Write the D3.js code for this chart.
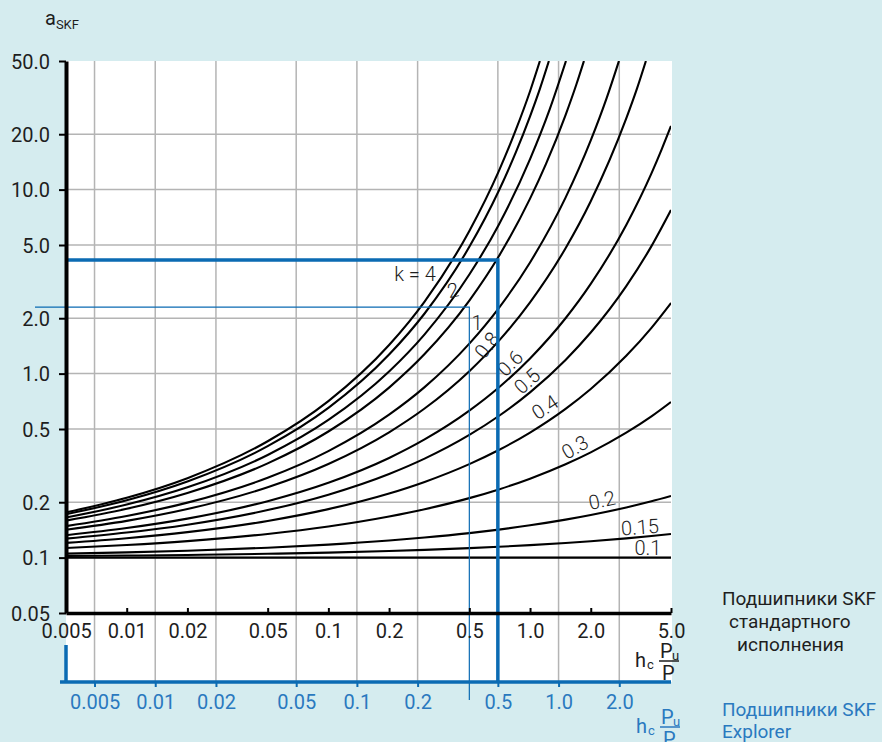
<!DOCTYPE html>
<html><head><meta charset="utf-8">
<script src="https://cdn.jsdelivr.net/npm/d3@7"></script>
<style>body{margin:0;background:#d5ecef;} svg{display:block}</style>
</head><body>
<svg id="c" width="882" height="742"></svg>
<script>
// ---- data ----
const yTicks = [50, 20, 10, 5, 2, 1, 0.5, 0.2, 0.1, 0.05];
const yTickLabels = ["50.0", "20.0", "10.0", "5.0", "2.0", "1.0", "0.5", "0.2", "0.1", "0.05"];
const xTicksStd = [0.005, 0.01, 0.02, 0.05, 0.1, 0.2, 0.5, 1.0, 2.0, 5.0];
const xTickLabelsStd = ["0.005", "0.01", "0.02", "0.05", "0.1", "0.2", "0.5", "1.0", "2.0", "5.0"];
const xTicksExp = [0.005, 0.01, 0.02, 0.05, 0.1, 0.2, 0.5, 1.0, 2.0];
const xTickLabelsExp = ["0.005", "0.01", "0.02", "0.05", "0.1", "0.2", "0.5", "1.0", "2.0"];
const stdDomain = [0.005, 5];
const expDomain = [0.00361, 3.61];   // Explorer scale, shifted against standard scale
const yDomain = [0.05, 50];

// curves: [hc*Pu/P (standard scale), aSKF]
const curve1 = [[0.005,0.176],[0.01,0.2115],[0.02,0.2703],[0.05,0.4289],[0.1,0.709],[0.2,1.43],[0.3,2.464],[0.5,5.966],[0.7,12.61],[0.85,21.1],[1.0,34.25],[1.119,50]];
const curve2 = [[0.005,0.1721],[0.01,0.2051],[0.02,0.2594],[0.05,0.4032],[0.1,0.651],[0.2,1.269],[0.3,2.122],[0.5,4.887],[0.7,9.863],[0.85,15.93],[1.0,25.03],[1.12,35.4],[1.24,50]];
const curve3 = [[0.005,0.1652],[0.01,0.1942],[0.02,0.241],[0.05,0.3613],[0.1,0.56],[0.2,1.027],[0.3,1.635],[0.5,3.455],[0.7,6.448],[1.0,14.64],[1.25,27.2],[1.507,50]];
const curve4 = [[0.005,0.1588],[0.01,0.1842],[0.02,0.2246],[0.05,0.3252],[0.1,0.4846],[0.2,0.8396],[0.3,1.277],[0.5,2.494],[0.7,4.341],[1.0,8.933],[1.2,13.8],[1.5,25.43],[1.7,37.5],[1.85,50]];
const curve5 = [[0.005,0.1483],[0.01,0.1683],[0.02,0.199],[0.05,0.2717],[0.1,0.3793],[0.2,0.5982],[0.3,0.8442],[0.5,1.455],[0.7,2.271],[1.0,4.019],[1.5,9.048],[2.0,18.5],[2.4,31.5],[2.759,50]];
const curve6 = [[0.005,0.1417],[0.01,0.1584],[0.02,0.1836],[0.05,0.2413],[0.1,0.3229],[0.2,0.4799],[0.3,0.6461],[0.5,1.031],[0.7,1.506],[1.0,2.44],[1.5,4.801],[2.0,8.645],[3.0,24.37],[3.4,35.7],[3.754,50]];
const curve7 = [[0.005,0.1324],[0.01,0.1448],[0.02,0.1629],[0.05,0.2026],[0.1,0.2551],[0.2,0.348],[0.3,0.4388],[0.5,0.6291],[0.7,0.8402],[1.0,1.209],[1.5,1.999],[2.0,3.072],[3.0,6.426],[4.0,12.25],[4.5,16.6],[5.0,22.17]];
const curve8 = [[0.005,0.1268],[0.01,0.1368],[0.02,0.151],[0.05,0.1813],[0.1,0.2199],[0.2,0.2848],[0.3,0.3451],[0.5,0.4643],[0.7,0.5884],[1.0,0.7911],[1.5,1.187],[2.0,1.672],[3.0,2.99],[4.0,4.929],[5.0,7.75]];
const curve9 = [[0.005,0.1202],[0.01,0.1274],[0.02,0.1375],[0.05,0.1582],[0.1,0.1834],[0.2,0.2231],[0.3,0.2579],[0.5,0.3222],[0.7,0.3843],[1.0,0.4784],[1.5,0.6435],[2.0,0.8248],[3.0,1.249],[4.0,1.774],[5.0,2.42]];
const curve10 = [[0.005,0.1127],[0.01,0.117],[0.02,0.1229],[0.05,0.1345],[0.1,0.1477],[0.2,0.1673],[0.3,0.1832],[0.5,0.2105],[0.7,0.2348],[1.0,0.2686],[1.5,0.3217],[2.0,0.3734],[3.0,0.4774],[4.0,0.5855],[5.0,0.701]];
const curve11 = [[0.005,0.1051],[0.01,0.1068],[0.02,0.109],[0.05,0.1132],[0.1,0.1176],[0.2,0.1238],[0.3,0.1285],[0.5,0.1359],[0.7,0.142],[1.0,0.1498],[1.5,0.1608],[2.0,0.1704],[3.0,0.1873],[4.0,0.2023],[5.0,0.2162]];
const curve12 = [[0.005,0.102],[0.01,0.1026],[0.02,0.1034],[0.05,0.1049],[0.1,0.1065],[0.2,0.1087],[0.3,0.1102],[0.5,0.1126],[0.7,0.1145],[1.0,0.1169],[1.5,0.1201],[2.0,0.1228],[3.0,0.1272],[4.0,0.131],[5.0,0.1343]];
const curve13 = [[0.005,0.1],[0.05,0.1],[0.5,0.1],[5.0,0.1]];
const curves = [curve1, curve2, curve3, curve4, curve5, curve6, curve7, curve8, curve9, curve10, curve11, curve12, curve13];

// curve labels: text, position (standard x, aSKF), rotation
const kLabelText = ["k = 4", "2", "1", "0.8", "0.6", "0.5", "0.4", "0.3", "0.2", "0.15", "0.1"];
const kLabelX = [0.269, 0.4145, 0.5453, 0.6113, 0.7948, 0.9651, 1.185, 1.669, 2.272, 3.507, 3.843];
const kLabelA = [3.48, 2.846, 1.884, 1.43, 1.142, 0.9118, 0.658, 0.3993, 0.2055, 0.1467, 0.1128];
const kLabelAngle = [0, -12, 0, -52, -45, -42, -33, -30, -12, -4, 0];

// reading examples
const explorerX = 0.5, explorerA = 4.14;
const standardX = 0.5, standardA = 2.3;

// ---- layout ----
const L = 66, R = 671, T = 61, B = 613, BB = 682;
const xStd = d3.scaleLog().domain(stdDomain).range([L, R]);
const xExp = d3.scaleLog().domain(expDomain).range([L, R]);
const y = d3.scaleLog().domain(yDomain).range([B, T]);

const BLUE = "#0b6bb3", BLUET = "#2a79bf", INK = "#1e1e1e";
const FONT = "Roboto, 'Open Sans', sans-serif";

const svg = d3.select("#c");
svg.append("rect").attr("width", 882).attr("height", 742).attr("fill", "#d5ecef");
svg.append("rect").attr("x", L).attr("y", T).attr("width", R - L + 1).attr("height", BB - T).attr("fill", "#fff");

// grid
const grid = svg.append("g").attr("stroke", "#b4b4b4").attr("stroke-width", 1.5);
grid.selectAll(".gv").data(xTicksExp).join("line")
  .attr("x1", d => xExp(d)).attr("x2", d => xExp(d)).attr("y1", T).attr("y2", BB);
grid.selectAll(".gh").data(yTicks.filter(d => d < 50 && d > 0.05)).join("line")
  .attr("y1", d => y(d)).attr("y2", d => y(d)).attr("x1", L).attr("x2", R);

// curves
svg.append("clipPath").attr("id", "clip").append("rect").attr("x", L).attr("y", T).attr("width", R - L).attr("height", B - T);
const line = d3.line().x(d => xStd(d[0])).y(d => y(d[1])).curve(d3.curveMonotoneX);
svg.append("g").attr("clip-path", "url(#clip)")
  .selectAll("path").data(curves).join("path")
  .attr("d", line).attr("fill", "none").attr("stroke", "#000").attr("stroke-width", 2.1);

// curve labels
svg.append("g").selectAll("text").data(kLabelText).join("text")
  .attr("transform", (d, i) => `translate(${xStd(kLabelX[i])},${y(kLabelA[i])}) rotate(${kLabelAngle[i]})`)
  .attr("text-anchor", "middle").attr("dy", "0.36em")
  .attr("font-family", FONT).attr("font-weight", 300).attr("font-size", 20).attr("fill", INK)
  .text(d => d);

// thin blue reading line (standard)
svg.append("path")
  .attr("d", `M35,${y(standardA)}H${xStd(standardX)}V700`)
  .attr("fill", "none").attr("stroke", BLUE).attr("stroke-width", 1.2);
// thick blue reading line (Explorer)
svg.append("path")
  .attr("d", `M${L},${y(explorerA)}H${xExp(explorerX)}V${BB}`)
  .attr("fill", "none").attr("stroke", BLUE).attr("stroke-width", 3.5);

// y axis
const yAxis = svg.append("g").attr("transform", `translate(${L},0)`)
  .call(d3.axisLeft(y).tickValues(yTicks).tickFormat((d, i) => yTickLabels[i]).tickSize(7).tickSizeOuter(0).tickPadding(9));
yAxis.select(".domain").attr("stroke", "#000").attr("stroke-width", 4);
yAxis.selectAll(".tick line").attr("stroke", "#000").attr("stroke-width", 2);
yAxis.selectAll(".tick text").attr("font-family", FONT).attr("font-size", 20).attr("fill", INK).attr("dy", "0.35em");

// standard x axis
const xAxisS = svg.append("g").attr("transform", `translate(0,${B})`)
  .call(d3.axisBottom(xStd).tickValues(xTicksStd).tickFormat((d, i) => xTickLabelsStd[i]).tickSize(-5).tickSizeOuter(0).tickPadding(11));
xAxisS.select(".domain").attr("stroke", "#000").attr("stroke-width", 3.5);
xAxisS.selectAll(".tick line").attr("stroke", "#000").attr("stroke-width", 2);
xAxisS.selectAll(".tick text").attr("font-family", FONT).attr("font-size", 20).attr("fill", INK);

// Explorer x axis
svg.append("path").attr("d", `M${L},645V${BB}`).attr("stroke", BLUE).attr("stroke-width", 3.5).attr("fill", "none");
const xAxisE = svg.append("g").attr("transform", `translate(0,${BB})`)
  .call(d3.axisBottom(xExp).tickValues(xTicksExp).tickFormat((d, i) => xTickLabelsExp[i]).tickSize(5).tickSizeOuter(0).tickPadding(8));
xAxisE.select(".domain").attr("stroke", BLUE).attr("stroke-width", 3.5).attr("d", `M${L - 6},0H${R}`);
xAxisE.selectAll(".tick line").attr("stroke", BLUE).attr("stroke-width", 2);
xAxisE.selectAll(".tick text").attr("font-family", FONT).attr("font-size", 20).attr("fill", BLUET);

// y title
const yt = svg.append("text").attr("x", 45).attr("y", 25).attr("font-family", FONT).attr("fill", INK);
yt.append("tspan").attr("font-size", 20).text("a");
yt.append("tspan").attr("font-size", 13).attr("dy", 4).text("SKF");

// x titles (h_c * Pu / P)
function xTitle(x0, base, color) {
  const g = svg.append("g").attr("font-family", FONT).attr("fill", color);
  g.append("text").attr("x", x0).attr("y", base).attr("font-size", 20).text("h");
  g.append("text").attr("x", x0 + 12).attr("y", base + 2).attr("font-size", 13).text("c");
  g.append("text").attr("x", x0 + 25).attr("y", base - 9).attr("font-size", 20).text("P");
  g.append("text").attr("x", x0 + 37).attr("y", base - 7).attr("font-size", 13).text("u");
  g.append("line").attr("x1", x0 + 24).attr("x2", x0 + 44).attr("y1", base - 6).attr("y2", base - 6).attr("stroke", color).attr("stroke-width", 1.5);
  g.append("text").attr("x", x0 + 27).attr("y", base + 13).attr("font-size", 20).text("P");
}
xTitle(635, 667, INK);
xTitle(636, 733, BLUET);

// side labels
const side = svg.append("g").attr("font-family", FONT).attr("font-size", 19);
side.append("text").attr("x", 722).attr("y", 605).attr("fill", INK).text("Подшипники SKF");
side.append("text").attr("x", 729).attr("y", 628).attr("fill", INK).text("стандартного");
side.append("text").attr("x", 737).attr("y", 651).attr("fill", INK).text("исполнения");
side.append("text").attr("x", 722).attr("y", 716).attr("fill", BLUET).text("Подшипники SKF");
side.append("text").attr("x", 722).attr("y", 738).attr("fill", BLUET).text("Explorer");
</script></body></html>
